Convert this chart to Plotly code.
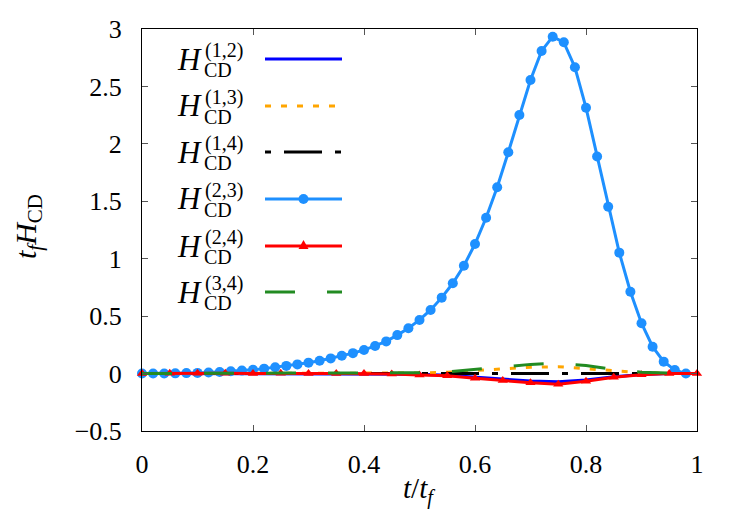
import plotly.graph_objects as go

# ---------------- data ----------------
t_fine = [round(0.02 * i, 2) for i in range(50)]          # 0.00 ... 0.98
h23 = [0.0, 0.0, 0.0, 0.002, 0.004, 0.006, 0.009, 0.014, 0.02, 0.026,
       0.033, 0.043, 0.055, 0.067, 0.08, 0.095, 0.112, 0.132, 0.155, 0.178,
       0.205, 0.24, 0.28, 0.335, 0.395, 0.467, 0.554, 0.661, 0.786, 0.939,
       1.128, 1.357, 1.622, 1.927, 2.251, 2.556, 2.809, 2.933, 2.884, 2.667,
       2.315, 1.89, 1.453, 1.053, 0.713, 0.438, 0.234, 0.104, 0.031, 0.0]

t_coarse = [round(0.05 * i, 2) for i in range(21)]        # 0.00 ... 1.00
h12 = [0, 0, 0, 0, 0, 0, 0, 0, 0, -0.002, -0.005, -0.015, -0.03, -0.05,
       -0.065, -0.072, -0.055, -0.028, -0.008, 0, 0]
h13 = [0, 0, 0, 0, 0, 0, 0, 0, 0, 0.002, 0.005, 0.012, 0.025, 0.04,
       0.055, 0.06, 0.045, 0.025, 0.008, 0.002, 0]
h14 = [0, 0, 0, 0, 0, 0, 0, 0, 0, 0, 0, 0, -0.002, -0.002, -0.002,
       -0.002, -0.002, 0, 0, 0, 0]
h24 = [0, 0.003, 0.003, 0.003, 0, 0.003, 0, 0, 0, -0.003, -0.012, -0.02,
       -0.04, -0.06, -0.08, -0.093, -0.067, -0.032, -0.01, 0, 0]
h34 = [0, 0.002, 0.002, 0.003, 0.003, 0.004, 0.004, 0.005, 0.005, 0.006,
       0.008, 0.015, 0.035, 0.06, 0.08, 0.09, 0.07, 0.035, 0.012, 0.005, 0]

labels = ["(1,2)", "(1,3)", "(1,4)", "(2,3)", "(2,4)", "(3,4)"]
x_ticks = [0, 0.2, 0.4, 0.6, 0.8, 1]
y_ticks = [-0.5, 0, 0.5, 1, 1.5, 2, 2.5, 3]

# ---------------- styles ----------------
C12, C13, C14, C23, C24, C34 = "#0000ff", "#ffa500", "#000000", "#1e90ff", "#ff0000", "#228b22"
D13 = "6px,10px"
D14 = "6px,13px,38px,13px"
D34 = "30px,32px"
LW = 3
FONT = "Liberation Serif"

fig = go.Figure()
fig.add_trace(go.Scatter(x=t_coarse, y=h12, mode="lines", line=dict(color=C12, width=LW)))
fig.add_trace(go.Scatter(x=t_coarse, y=h13, mode="lines", line=dict(color=C13, width=LW, dash=D13)))
fig.add_trace(go.Scatter(x=t_coarse, y=h14, mode="lines", line=dict(color=C14, width=LW, dash=D14)))
fig.add_trace(go.Scatter(x=t_fine, y=h23, mode="lines+markers", line=dict(color=C23, width=LW),
                         marker=dict(symbol="circle", size=10, color=C23), cliponaxis=False))
fig.add_trace(go.Scatter(x=t_coarse, y=h24, mode="lines+markers", line=dict(color=C24, width=LW),
                         marker=dict(symbol="triangle-up", size=9, color=C24), cliponaxis=False))
fig.add_trace(go.Scatter(x=t_coarse, y=h34, mode="lines", line=dict(color=C34, width=LW, dash=D34)))

# ---------------- layout ----------------
W, H = 750, 525
L, R, T, B = 142, 53, 29, 94
pw, ph = W - L - R, H - T - B


def px(xp):
    return (xp - L) / pw


def py(yp):
    return (H - B - yp) / ph


fig.update_layout(
    width=W, height=H, margin=dict(l=L, r=R, t=T, b=B),
    plot_bgcolor="white", paper_bgcolor="white", showlegend=False,
    font=dict(family=FONT, size=26, color="black"),
)
axis_common = dict(showgrid=False, zeroline=False, showline=True, linecolor="black",
                   linewidth=1, mirror="ticks", ticks="inside", ticklen=6,
                   tickcolor="#555555", tickwidth=1,
                   tickfont=dict(family=FONT, size=26, color="black"))
fig.update_xaxes(range=[0, 1], tickvals=x_ticks, ticktext=[str(v) for v in x_ticks],
                 ticklabelstandoff=10, **axis_common)
fig.update_yaxes(range=[-0.5, 3], tickvals=y_ticks,
                 ticktext=["\u22120.5" if v == -0.5 else ("%g" % v) for v in y_ticks],
                 ticklabelstandoff=14, **axis_common)

ann = []
shapes = []
# axis titles
ann.append(dict(text="<i>t</i>/<i>t</i><sub><i>f</i></sub>", xref="paper", yref="paper",
                x=px(419), y=py(490), xanchor="center", yanchor="middle", showarrow=False,
                font=dict(family=FONT, size=29)))
ann.append(dict(text="<i>t</i><sub><i>f</i></sub><i>H</i><sub>CD</sub>", xref="paper", yref="paper",
                x=px(28), y=py(227), xanchor="center", yanchor="middle", showarrow=False,
                textangle=-90, font=dict(family=FONT, size=30)))

# custom legend (text left, sample right)
rows = [59, 106, 152, 199, 246, 292]
styles = [(C12, None, None), (C13, D13, None), (C14, D14, None),
          (C23, None, "circle"), (C24, None, "triangle"), (C34, D34, None)]
for lab, yc, (col, dash, mk) in zip(labels, rows, styles):
    ann.append(dict(text="<i>H</i>", xref="paper", yref="paper", x=px(204), y=py(yc),
                    xanchor="right", yanchor="middle", showarrow=False,
                    font=dict(family=FONT, size=31)))
    ann.append(dict(text=lab, xref="paper", yref="paper", x=px(203), y=py(yc - 9),
                    xanchor="left", yanchor="middle", showarrow=False,
                    font=dict(family=FONT, size=20)))
    ann.append(dict(text="CD", xref="paper", yref="paper", x=px(202), y=py(yc + 11),
                    xanchor="left", yanchor="middle", showarrow=False,
                    font=dict(family=FONT, size=20)))
    ln = dict(color=col, width=LW)
    if dash:
        ln["dash"] = dash
    shapes.append(dict(type="line", xref="paper", yref="paper", x0=px(265), x1=px(342),
                       y0=py(yc), y1=py(yc), line=ln))
    if mk == "circle":
        shapes.append(dict(type="circle", xref="paper", yref="paper",
                           x0=px(298.5), x1=px(308.5), y0=py(yc - 5), y1=py(yc + 5),
                           fillcolor=col, line=dict(color=col, width=0)))
    elif mk == "triangle":
        path = "M %f,%f L %f,%f L %f,%f Z" % (px(298.5), py(yc + 3), px(308.5), py(yc + 3),
                                              px(303.5), py(yc - 6))
        shapes.append(dict(type="path", xref="paper", yref="paper", path=path,
                           fillcolor=col, line=dict(color=col, width=0)))

fig.update_layout(annotations=ann, shapes=shapes)
fig.write_html("out.html")
